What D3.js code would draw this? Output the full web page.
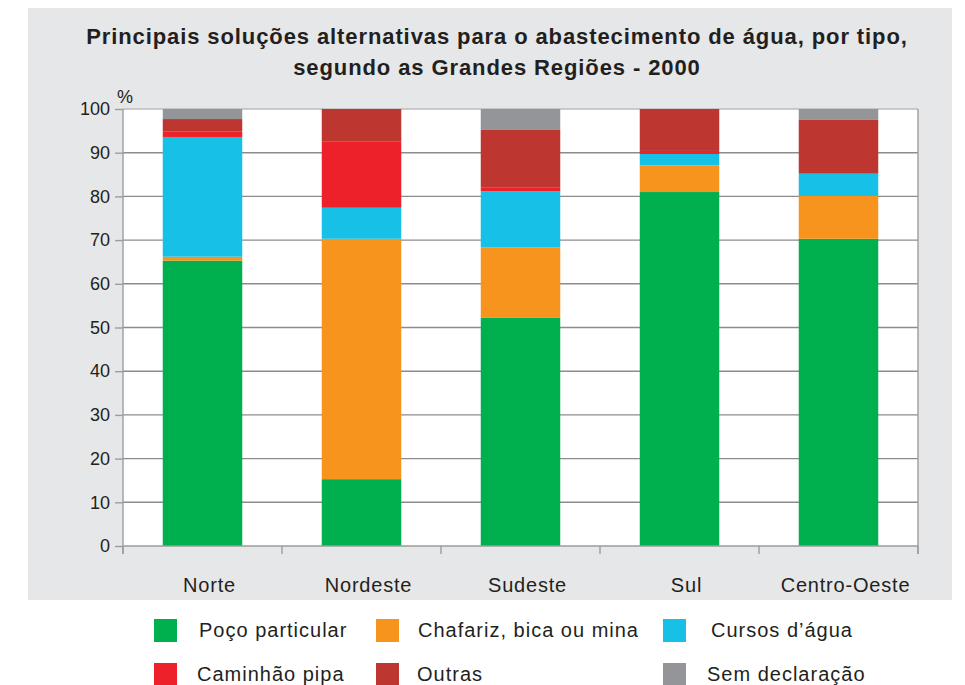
<!DOCTYPE html>
<html>
<head>
<meta charset="utf-8">
<script src="https://cdn.jsdelivr.net/npm/d3@7"></script>
<style>
  body { margin: 0; background: #ffffff; }
  text { font-family: "Liberation Sans", Arial, sans-serif; fill: #231f20; }
</style>
</head>
<body>
<div id="chart"></div>
<script>
// Data (percent of households, by region)
const regions = ["Norte", "Nordeste", "Sudeste", "Sul", "Centro-Oeste"];
const seriesNames = ["Poço particular", "Chafariz, bica ou mina", "Cursos d’água",
                     "Caminhão pipa", "Outras", "Sem declaração"];
const poco      = [65.3, 15.3, 52.2, 81.0, 70.3];
const chafariz  = [0.9, 55.0, 16.1, 6.1, 9.8];
const cursos    = [27.4, 7.1, 12.9, 2.6, 5.1];
const caminhao  = [1.2, 15.1, 0.9, 0.7, 0.0];
const outras    = [2.9, 7.5, 13.1, 9.6, 12.3];
const semDecl   = [2.3, 0.0, 4.8, 0.0, 2.5];
const yTicks = [0, 10, 20, 30, 40, 50, 60, 70, 80, 90, 100];
const colors = ["#00b04f", "#f7941d", "#16c0e6", "#ed2129", "#bd3630", "#939598"];

const allSeries = [poco, chafariz, cursos, caminhao, outras, semDecl];

// build rows for the stack layout
const rows = regions.map((r, i) => {
  const row = { region: r };
  seriesNames.forEach((s, j) => { row[s] = allSeries[j][i]; });
  return row;
});

let width = 965, height = 685;
let margin = { top: 109, bottom: 139, left: 123, right: 47 };

let svg = d3.select('#chart')
  .append('svg')
  .attr('width', width)
  .attr('height', height);

// gray panel behind the chart
svg.append('rect')
  .attr('x', 28).attr('y', 8)
  .attr('width', 924).attr('height', 592)
  .attr('fill', '#e6e7e8');

// Title
svg.append('text')
  .attr('x', 497).attr('y', 44)
  .attr('text-anchor', 'middle')
  .style('font-weight', 'bold')
  .style('font-size', '22px')
  .style('letter-spacing', '0.9px')
  .text('Principais soluções alternativas para o abastecimento de água, por tipo,');
svg.append('text')
  .attr('x', 497).attr('y', 75)
  .attr('text-anchor', 'middle')
  .style('font-weight', 'bold')
  .style('font-size', '22px')
  .style('letter-spacing', '0.9px')
  .text('segundo as Grandes Regiões - 2000');

let xScale = d3.scaleBand()
  .domain(regions)
  .range([margin.left, width - margin.right])
  .paddingInner(0.5)
  .paddingOuter(0.25);

let yScale = d3.scaleLinear()
  .domain([0, 100])
  .range([height - margin.bottom, margin.top]);

// white plot area
svg.append('rect')
  .attr('x', margin.left).attr('y', margin.top)
  .attr('width', width - margin.right - margin.left)
  .attr('height', height - margin.bottom - margin.top)
  .attr('fill', '#ffffff');

// gridlines
svg.append('g')
  .selectAll('line')
  .data(yTicks.filter(d => d > 0 && d < 100))
  .join('line')
  .attr('x1', margin.left).attr('x2', width - margin.right)
  .attr('y1', d => yScale(d)).attr('y2', d => yScale(d))
  .attr('stroke', '#8c8c8c')
  .attr('stroke-width', 1.4);

// top border
svg.append('line')
  .attr('x1', margin.left).attr('x2', width - margin.right)
  .attr('y1', yScale(100)).attr('y2', yScale(100))
  .attr('stroke', '#bcbdc0').attr('stroke-width', 1.4);

// right border
svg.append('line')
  .attr('x1', width - margin.right).attr('x2', width - margin.right)
  .attr('y1', yScale(100)).attr('y2', yScale(0) + 8)
  .attr('stroke', '#9d9d9d').attr('stroke-width', 1.4);

// stacked bars
const stack = d3.stack().keys(seriesNames);
const stacked = stack(rows);

svg.append('g')
  .selectAll('g')
  .data(stacked)
  .join('g')
  .attr('fill', (d, i) => colors[i])
  .selectAll('rect')
  .data(d => d)
  .join('rect')
  .attr('x', d => xScale(d.data.region))
  .attr('y', d => yScale(d[1]))
  .attr('width', xScale.bandwidth())
  .attr('height', d => yScale(d[0]) - yScale(d[1]));

// Y axis
let yAxis = svg.append('g')
  .attr('transform', `translate(${margin.left},0)`)
  .call(d3.axisLeft(yScale).tickValues(yTicks).tickSize(8).tickPadding(5));
yAxis.selectAll('line, path').attr('stroke', '#9d9d9d').attr('stroke-width', 1.4);
yAxis.select('.domain').attr('d', `M0,${yScale(100)}V${yScale(0) + 8}`);
yAxis.selectAll('text')
  .style('font-size', '18px')
  .style('font-family', '"Liberation Sans", Arial, sans-serif')
  .attr('fill', '#231f20');

svg.append('text')
  .attr('x', 117).attr('y', 103)
  .style('font-size', '18px')
  .text('%');

// X axis: baseline + ticks at band edges
const step = xScale.step();
const edges = regions.map((r, i) => margin.left + i * step).concat([width - margin.right]);
svg.append('line')
  .attr('x1', margin.left).attr('x2', width - margin.right)
  .attr('y1', yScale(0)).attr('y2', yScale(0))
  .attr('stroke', '#9d9d9d').attr('stroke-width', 1.4);
svg.append('g')
  .selectAll('line')
  .data(edges)
  .join('line')
  .attr('x1', d => d).attr('x2', d => d)
  .attr('y1', yScale(0)).attr('y2', yScale(0) + 8)
  .attr('stroke', '#9d9d9d').attr('stroke-width', 1.4);

// category labels sit a little right of the bar centres
svg.append('g')
  .selectAll('text')
  .data(regions)
  .join('text')
  .attr('x', d => xScale(d) + xScale.bandwidth() / 2 + 7)
  .attr('y', 592)
  .attr('text-anchor', 'middle')
  .style('font-size', '20px')
  .style('letter-spacing', '0.8px')
  .text(d => d);

// Legend
const legendPos = [
  { sx: 154, tx: 199, y: 619 },
  { sx: 376, tx: 418, y: 619 },
  { sx: 663, tx: 711, y: 619 },
  { sx: 154, tx: 197, y: 663 },
  { sx: 376, tx: 417, y: 663 },
  { sx: 663, tx: 707, y: 663 }
];
seriesNames.forEach((name, i) => {
  const p = legendPos[i];
  svg.append('rect')
    .attr('x', p.sx).attr('y', p.y)
    .attr('width', 23).attr('height', 23)
    .attr('fill', colors[i]);
  svg.append('text')
    .attr('x', p.tx).attr('y', p.y + 18)
    .style('font-size', '20px')
    .style('letter-spacing', '1px')
    .text(name);
});
</script>
</body>
</html>
